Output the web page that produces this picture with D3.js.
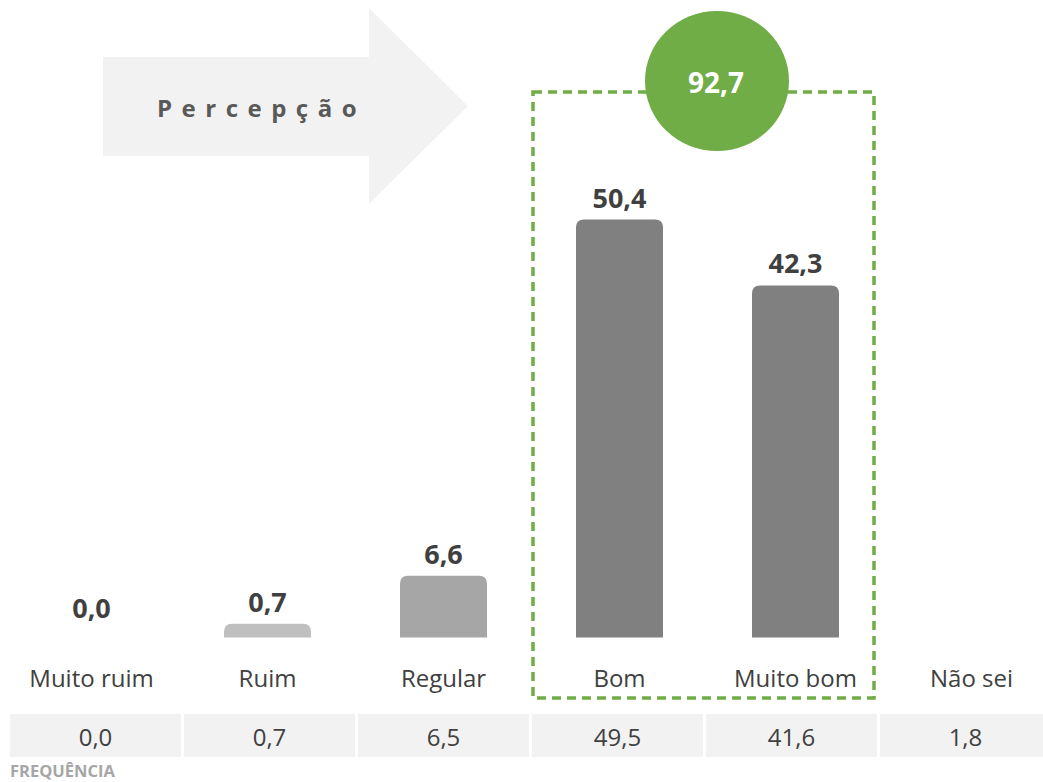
<!DOCTYPE html>
<html><head><meta charset="utf-8">
<script src="https://cdn.jsdelivr.net/npm/d3@7"></script>
<style>body{margin:0;background:#fff}svg{display:block}text{font-family:"Open Sans",sans-serif}</style>
</head><body><svg id="c" width="1043" height="782"></svg>
<script>
const categories = ["Muito ruim","Ruim","Regular","Bom","Muito bom","Não sei"];
const percValues = [0.0, 0.7, 6.6, 50.4, 42.3, null];
const freqValues = [0.0, 0.7, 6.5, 49.5, 41.6, 1.8];
const barColors = ["#BFBFBF","#BFBFBF","#A6A6A6","#808080","#808080",null];
const totalLabel = "92,7";
const arrowLabel = "Percepção";
const tableTitle = "FREQUÊNCIA";

const fmt = v => d3.format(".1f")(v).replace(".", ",");
const svg = d3.select("#c");
const x = d3.scalePoint().domain(categories).range([91.5, 971.5]);
const baseY = 637.5;
const y = d3.scaleLinear().domain([0, 50.4]).range([629.5, 219.5]);
const bw = 87, r = 8;

// arrow
svg.append("path").attr("fill","#F2F2F2")
  .attr("d","M103,57 L369,57 L369,8 L468,106 L369,204 L369,156 L103,156 Z");
svg.append("text").attr("x",157).attr("y",117).attr("fill","#595959")
  .attr("font-size",24).attr("font-weight","bold").attr("letter-spacing","9.5px")
  .text(arrowLabel);

// dashed box
svg.append("rect").attr("x",533).attr("y",92).attr("width",341).attr("height",606)
  .attr("fill","none").attr("stroke","#70AD47").attr("stroke-width",3.5)
  .attr("stroke-dasharray","9,6");

// circle
svg.append("ellipse").attr("cx",717).attr("cy",81).attr("rx",72).attr("ry",70).attr("fill","#70AD47");
svg.append("text").attr("x",716).attr("y",93).attr("text-anchor","middle")
  .attr("fill","#fff").attr("font-size",28).attr("font-weight","bold").text(totalLabel);

// bars
const data = categories.map((c,i)=>({c, v:percValues[i], f:freqValues[i], col:barColors[i]}));
data.forEach(d=>{
  if (d.v === null) return;
  const x0 = x(d.c) - bw/2, x1 = x(d.c) + bw/2, y0 = baseY, yt = y(d.v);
  if (d.v > 0) {
    svg.append("path").attr("fill", d.col)
      .attr("d", `M${x0},${y0} L${x0},${yt+r} Q${x0},${yt} ${x0+r},${yt} L${x1-r},${yt} Q${x1},${yt} ${x1},${yt+r} L${x1},${y0} Z`);
  }
  svg.append("text").attr("x", x(d.c)).attr("y", yt - 12)
    .attr("text-anchor","middle").attr("fill","#404040").attr("font-size",27)
    .attr("font-weight","bold").text(fmt(d.v));
});

// category labels
svg.selectAll(".cat").data(data).join("text").attr("class","cat")
  .attr("x", d=>x(d.c)).attr("y", 687).attr("text-anchor","middle")
  .attr("fill","#404040").attr("font-size",24).text(d=>d.c);

// table
const tx = d3.scaleBand().domain(categories).range([10, 1051]).paddingInner(0.017);
svg.selectAll(".cell").data(data).join("rect").attr("class","cell")
  .attr("x", d=>tx(d.c)).attr("y",714).attr("width",tx.bandwidth()).attr("height",43)
  .attr("fill","#F2F2F2");
svg.selectAll(".ft").data(data).join("text").attr("class","ft")
  .attr("x", d=>tx(d.c)+tx.bandwidth()/2).attr("y",746)
  .attr("text-anchor","middle").attr("fill","#404040").attr("font-size",24).text(d=>fmt(d.f));
svg.append("text").attr("x",10).attr("y",777).attr("fill","#A6A6A6").attr("font-size",16.5)
  .attr("font-weight","bold").text(tableTitle);
</script></body></html>
